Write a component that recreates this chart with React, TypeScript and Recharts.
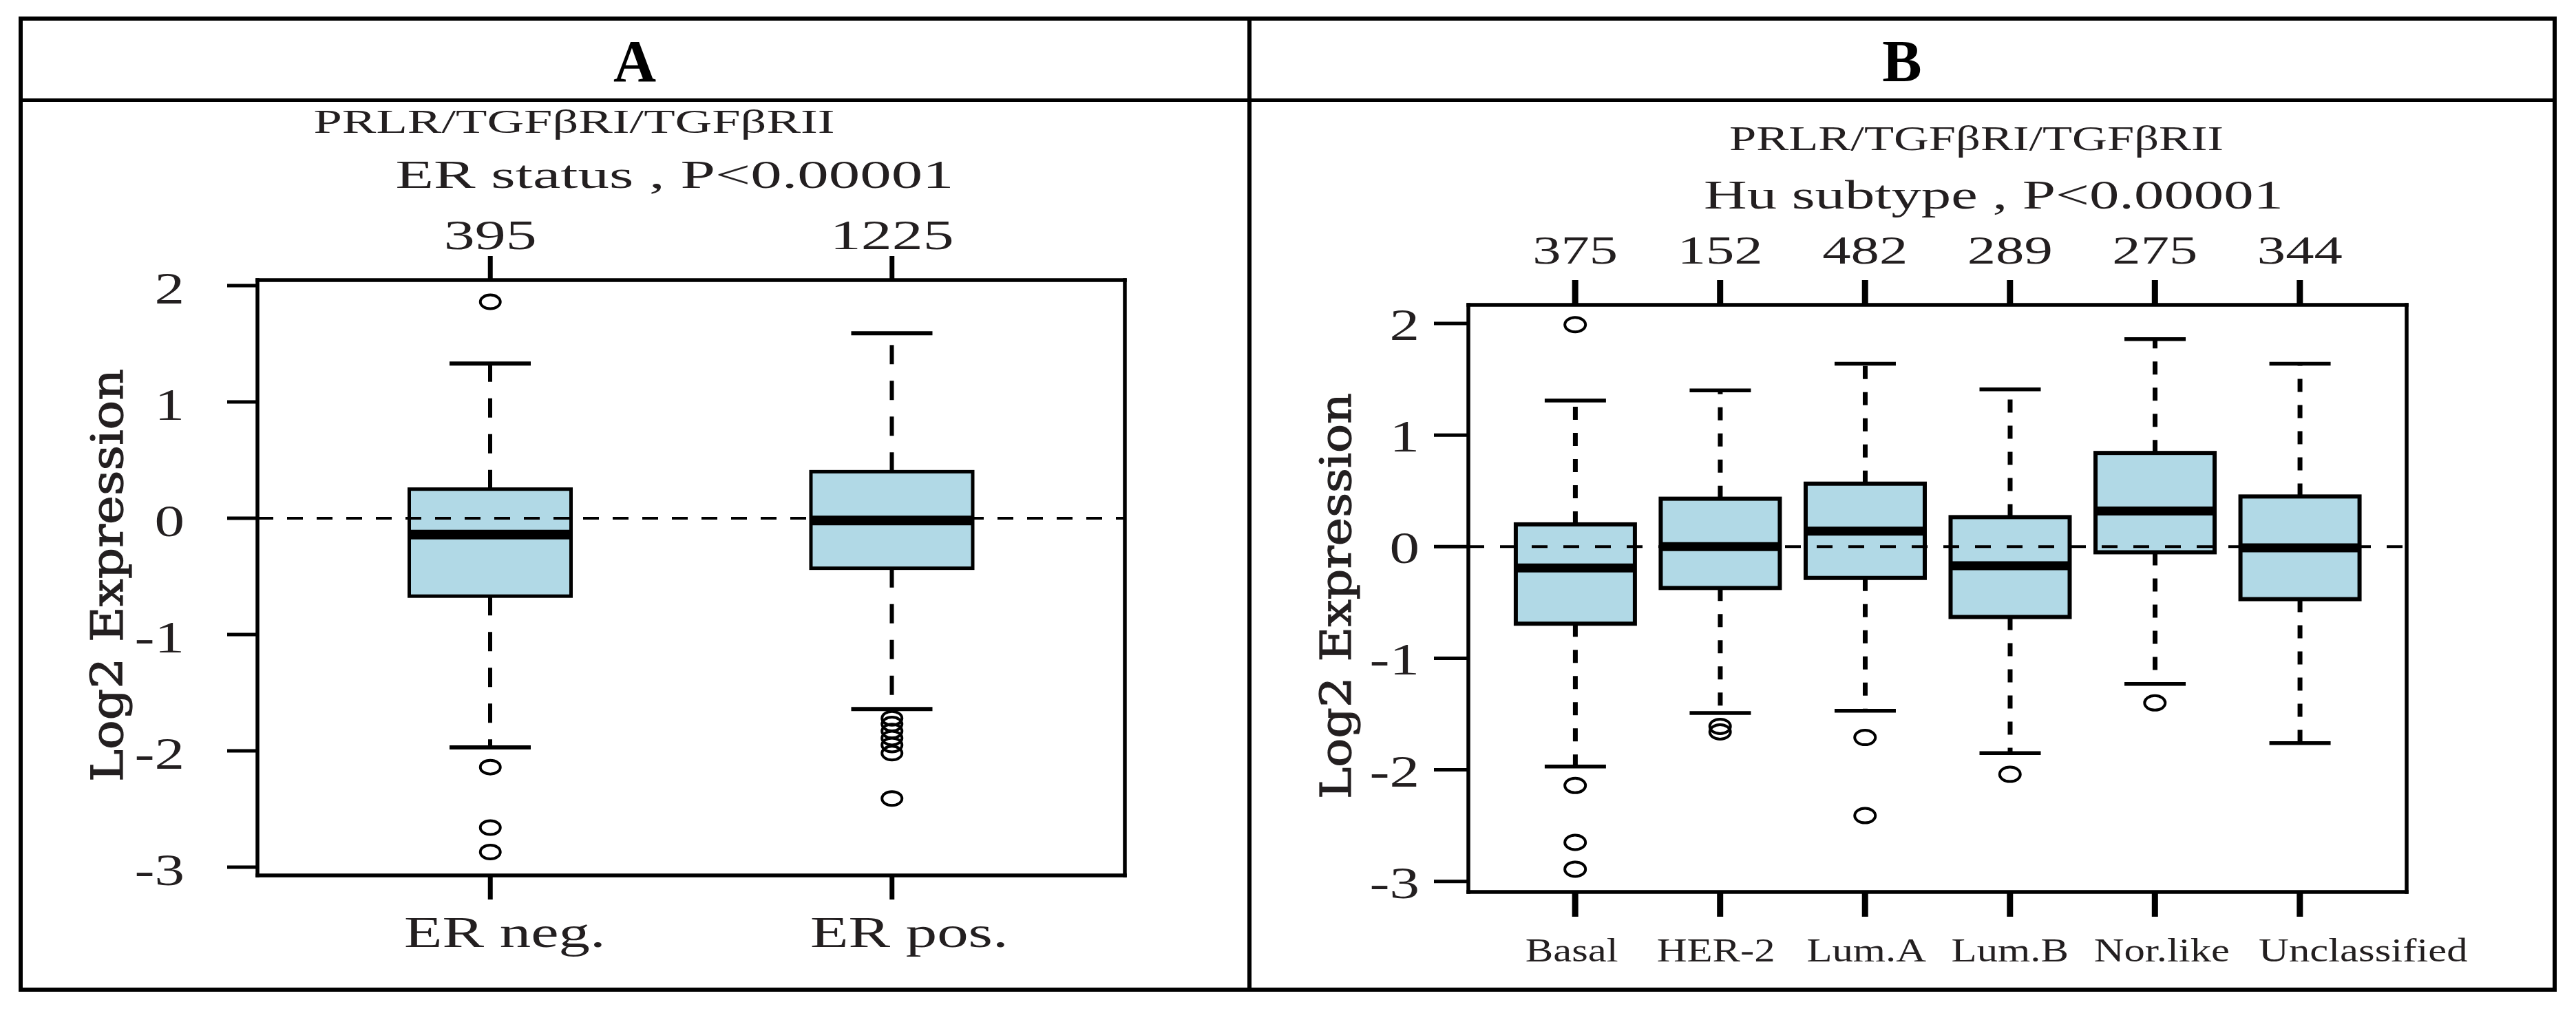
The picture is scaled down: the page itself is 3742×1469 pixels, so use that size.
import React from 'react';
import { ComposedChart, Bar, Scatter, XAxis, YAxis, ReferenceLine } from 'recharts';

const PAGE_W = 3742;
const PAGE_H = 1469;
const SERIF = '"Liberation Serif", "Times New Roman", Times, serif';
const WIDE_SERIF = '"DejaVu Serif", serif';
const INK = '#231f20';
const BOX_FILL = '#b1d9e6';

// ---------- Panel A: ER status ----------
const erCategories = ['ER neg.', 'ER pos.'];
const erCounts = [395, 1225];
const erWhiskerLow = [-1.97, -1.64];
const erQ1 = [-0.67, -0.43];
const erMedian = [-0.14, -0.02];
const erQ3 = [0.25, 0.4];
const erWhiskerHigh = [1.33, 1.59];
const erOutliers = [
  [1.86, -2.14, -2.66, -2.87],
  [-1.72, -1.77, -1.83, -1.89, -1.95, -2.02, -2.41],
];
const erTicks = [-3, -2, -1, 0, 1, 2];

// ---------- Panel B: Hu subtype ----------
const huCategories = ['Basal', 'HER-2', 'Lum.A', 'Lum.B', 'Nor.like', 'Unclassified'];
const huCounts = [375, 152, 482, 289, 275, 344];
const huWhiskerLow = [-1.97, -1.49, -1.47, -1.85, -1.23, -1.76];
const huQ1 = [-0.69, -0.37, -0.28, -0.63, -0.05, -0.47];
const huMedian = [-0.19, 0.0, 0.14, -0.17, 0.32, -0.01];
const huQ3 = [0.2, 0.43, 0.565, 0.265, 0.84, 0.45];
const huWhiskerHigh = [1.31, 1.4, 1.64, 1.41, 1.86, 1.64];
const huOutliers = [[1.99, -2.14, -2.65, -2.89], [-1.61, -1.66], [-1.71, -2.41], [-2.04], [-1.4], []];
const huTicks = [-3, -2, -1, 0, 1, 2];

type Row = { cat: string; count: number; lo: number; q1: number; med: number; q3: number; hi: number };

function buildRows(cats: string[], counts: number[], lo: number[], q1: number[], med: number[], q3: number[], hi: number[]): Row[] {
  return cats.map((c, i) => ({ cat: c, count: counts[i], lo: lo[i], q1: q1[i], med: med[i], q3: q3[i], hi: hi[i] }));
}
function buildOutliers(cats: string[], outs: number[][]) {
  const res: { cat: string; v: number }[] = [];
  cats.forEach((c, i) => outs[i].forEach((v) => res.push({ cat: c, v })));
  return res;
}

const erRows = buildRows(erCategories, erCounts, erWhiskerLow, erQ1, erMedian, erQ3, erWhiskerHigh);
const erOutlierRows = buildOutliers(erCategories, erOutliers);
const huRows = buildRows(huCategories, huCounts, huWhiskerLow, huQ1, huMedian, huQ3, huWhiskerHigh);
const huOutlierRows = buildOutliers(huCategories, huOutliers);

// ---------- layout / style ----------
const panelA = {
  plot: { left: 374, top: 407, right: 1634, bottom: 1272 },
  domain: [-3.071, 2.047],
  pad: 46.5,
  boxWidth: 235,
  capWidth: 118,
  capStroke: 6,
  frameWidth: 5.5,
  boxStroke: 5,
  medianWidth: 14,
  whiskerWidth: 6,
  whiskerDash: '28 24',
  zeroDash: '23 20',
  yTickSize: 44,
  yTickMargin: 62,
  yTickFont: 66,
  yTickSx: 1.32,
  yTickDy: 26,
  yTickWidth: 5,
  xTickSize: 35,
  xTickWidth: 7,
  countBaseline: 362,
  countFont: 62,
  countSx: 1.45,
  labelBaseline: 1376,
  labelFont: 64,
  labelSx: 1.42,
  labelShift: [21, 25],
  outlierRx: 14.5,
  outlierRy: 10,
  outlierStroke: 4,
};

const panelB = {
  plot: { left: 2133, top: 443, right: 3496, bottom: 1296 },
  domain: [-3.094, 2.167],
  pad: 49.9,
  boxWidth: 173,
  capWidth: 89,
  capStroke: 5.5,
  frameWidth: 5.5,
  boxStroke: 6,
  medianWidth: 13,
  whiskerWidth: 7,
  whiskerDash: '19 19',
  zeroDash: '23 23',
  yTickSize: 50,
  yTickMargin: 21,
  yTickFont: 66,
  yTickSx: 1.32,
  yTickDy: 24,
  yTickWidth: 5,
  xTickSize: 36,
  xTickWidth: 9,
  countBaseline: 383,
  countFont: 57,
  countSx: 1.45,
  labelBaseline: 1397,
  labelFont: 48,
  labelSx: 1.265,
  labelShift: [-5, -6, 2, 0, 10, 92],
  outlierRx: 15,
  outlierRy: 10.5,
  outlierStroke: 4,
};

const AXIS_H = 60;
const YAXIS_W = 60;

function StretchText({ x, y, sx, size, anchor = 'middle', family = SERIF, weight = 400, text }: any) {
  return (
    <g transform={`translate(${x},${y}) scale(${sx},1)`}>
      <text x={0} y={0} textAnchor={anchor} fontFamily={family} fontSize={size} fontWeight={weight} fill={INK}>
        {text}
      </text>
    </g>
  );
}

function BoxPanel({ cfg, rows, outliers, ticks, categories, counts }: any) {
  const margin = {
    top: cfg.plot.top - AXIS_H,
    bottom: PAGE_H - cfg.plot.bottom - AXIS_H,
    left: cfg.plot.left - YAXIS_W,
    right: PAGE_W - cfg.plot.right - YAXIS_W,
  };
  const frameLine = { stroke: '#000', strokeWidth: cfg.frameWidth, strokeLinecap: 'square' };

  const renderLabel = (p: any) => {
    const i = categories.indexOf(p.payload.value);
    return (
      <StretchText x={p.x + (cfg.labelShift[i] || 0)} y={cfg.labelBaseline} sx={cfg.labelSx} size={cfg.labelFont} text={p.payload.value} />
    );
  };
  const renderCount = (p: any) => {
    const i = categories.indexOf(p.payload.value);
    return <StretchText x={p.x} y={cfg.countBaseline} sx={cfg.countSx} size={cfg.countFont} text={String(counts[i])} />;
  };
  const renderYTick = (p: any) => (
    <StretchText x={p.x} y={p.y + cfg.yTickDy} sx={cfg.yTickSx} size={cfg.yTickFont} anchor="end" text={String(p.payload.value)} />
  );

  const upperWhisker = (p: any) => {
    const cx = p.x + p.width / 2;
    return (
      <g>
        <line x1={cx} x2={cx} y1={p.y + p.height} y2={p.y} stroke="#000" strokeWidth={cfg.whiskerWidth} strokeDasharray={cfg.whiskerDash} />
        <line x1={cx - cfg.capWidth / 2} x2={cx + cfg.capWidth / 2} y1={p.y} y2={p.y} stroke="#000" strokeWidth={cfg.capStroke} />
      </g>
    );
  };
  const lowerWhisker = (p: any) => {
    const cx = p.x + p.width / 2;
    const yb = p.y + p.height;
    return (
      <g>
        <line x1={cx} x2={cx} y1={p.y} y2={yb} stroke="#000" strokeWidth={cfg.whiskerWidth} strokeDasharray={cfg.whiskerDash} />
        <line x1={cx - cfg.capWidth / 2} x2={cx + cfg.capWidth / 2} y1={yb} y2={yb} stroke="#000" strokeWidth={cfg.capStroke} />
      </g>
    );
  };
  const boxShape = (p: any) => (
    <rect x={p.x} y={p.y} width={p.width} height={p.height} fill={BOX_FILL} stroke="#000" strokeWidth={cfg.boxStroke} />
  );
  const medianShape = (p: any) => (
    <line x1={p.cx - cfg.boxWidth / 2} x2={p.cx + cfg.boxWidth / 2} y1={p.cy} y2={p.cy} stroke="#000" strokeWidth={cfg.medianWidth} />
  );
  const outlierShape = (p: any) => (
    <ellipse cx={p.cx} cy={p.cy} rx={cfg.outlierRx} ry={cfg.outlierRy} fill="none" stroke="#000" strokeWidth={cfg.outlierStroke} />
  );

  return (
    <div style={{ position: 'absolute', left: 0, top: 0 }}>
      <ComposedChart width={PAGE_W} height={PAGE_H} data={rows} margin={margin} barGap={-cfg.boxWidth}>
        <XAxis
          xAxisId="b"
          dataKey="cat"
          type="category"
          orientation="bottom"
          height={AXIS_H}
          padding={{ left: cfg.pad, right: cfg.pad }}
          allowDuplicatedCategory={false}
          interval={0}
          axisLine={frameLine}
          tickSize={cfg.xTickSize}
          tickLine={{ stroke: '#000', strokeWidth: cfg.xTickWidth }}
          tick={renderLabel}
        />
        <XAxis
          xAxisId="t"
          dataKey="cat"
          type="category"
          orientation="top"
          height={AXIS_H}
          padding={{ left: cfg.pad, right: cfg.pad }}
          allowDuplicatedCategory={false}
          interval={0}
          axisLine={frameLine}
          tickSize={cfg.xTickSize}
          tickLine={{ stroke: '#000', strokeWidth: cfg.xTickWidth }}
          tick={renderCount}
        />
        <YAxis
          yAxisId="l"
          type="number"
          domain={cfg.domain}
          ticks={ticks}
          allowDataOverflow
          width={YAXIS_W}
          axisLine={frameLine}
          tickSize={cfg.yTickSize}
          tickMargin={cfg.yTickMargin}
          tickLine={{ stroke: '#000', strokeWidth: cfg.yTickWidth }}
          tick={renderYTick}
          interval={0}
        />
        <YAxis
          yAxisId="r"
          orientation="right"
          type="number"
          domain={cfg.domain}
          ticks={ticks}
          allowDataOverflow
          width={YAXIS_W}
          axisLine={frameLine}
          tickLine={false}
          tick={false}
        />
        <Bar xAxisId="b" yAxisId="l" dataKey={(d: Row) => [d.q3, d.hi]} barSize={cfg.boxWidth} shape={upperWhisker} isAnimationActive={false} />
        <Bar xAxisId="b" yAxisId="l" dataKey={(d: Row) => [d.lo, d.q1]} barSize={cfg.boxWidth} shape={lowerWhisker} isAnimationActive={false} />
        <Bar xAxisId="b" yAxisId="l" dataKey={(d: Row) => [d.q1, d.q3]} barSize={cfg.boxWidth} shape={boxShape} isAnimationActive={false} />
        <ReferenceLine xAxisId="b" yAxisId="l" y={0} stroke="#000" strokeWidth={4} strokeDasharray={cfg.zeroDash} ifOverflow="visible" />
        <Scatter xAxisId="t" yAxisId="l" dataKey="med" shape={medianShape} isAnimationActive={false} />
        <Scatter xAxisId="b" yAxisId="r" data={outliers} dataKey="v" shape={outlierShape} isAnimationActive={false} />
      </ComposedChart>
    </div>
  );
}

function Frame() {
  return (
    <svg width={PAGE_W} height={PAGE_H} style={{ position: 'absolute', left: 0, top: 0 }}>
      <rect x={0} y={0} width={PAGE_W} height={PAGE_H} fill="#fff" />
      <rect x={30} y={27} width={3681} height={1411} fill="none" stroke="#000" strokeWidth={6} />
      <line x1={30} x2={3711} y1={145.5} y2={145.5} stroke="#000" strokeWidth={5} />
      <line x1={1815} x2={1815} y1={27} y2={1438} stroke="#000" strokeWidth={6} />
      <text x={922} y={118} textAnchor="middle" fontFamily={SERIF} fontWeight={700} fontSize={86} fill="#000">A</text>
      <text x={2763} y={118} textAnchor="middle" fontFamily={SERIF} fontWeight={700} fontSize={86} fill="#000">B</text>

      <text x={834} y={193} textAnchor="middle" fontFamily={SERIF} fontSize={48} fill={INK} textLength={757} lengthAdjust="spacingAndGlyphs">
        PRLR/TGFβRI/TGFβRII
      </text>
      <text x={980} y={273} textAnchor="middle" fontFamily={SERIF} fontSize={58} fill={INK} textLength={811} lengthAdjust="spacingAndGlyphs">
        ER status , P&lt;0.00001
      </text>
      <text x={2871} y={218} textAnchor="middle" fontFamily={SERIF} fontSize={50} fill={INK} textLength={718} lengthAdjust="spacingAndGlyphs">
        PRLR/TGFβRI/TGFβRII
      </text>
      <text x={2896} y={303} textAnchor="middle" fontFamily={SERIF} fontSize={60} fill={INK} textLength={842} lengthAdjust="spacingAndGlyphs">
        Hu subtype , P&lt;0.00001
      </text>

      <g transform="translate(178,836)">
        <text transform="rotate(-90)" x={0} y={0} textAnchor="middle" fontFamily={WIDE_SERIF} fontSize={64} fill={INK} stroke={INK} strokeWidth={1.2} textLength={600} lengthAdjust="spacingAndGlyphs">
          Log2 Expression
        </text>
      </g>
      <g transform="translate(1962,866)">
        <text transform="rotate(-90)" x={0} y={0} textAnchor="middle" fontFamily={WIDE_SERIF} fontSize={62} fill={INK} stroke={INK} strokeWidth={1.2} textLength={590} lengthAdjust="spacingAndGlyphs">
          Log2 Expression
        </text>
      </g>
    </svg>
  );
}

export default function App() {
  return (
    <div style={{ position: 'absolute', left: 0, top: 0, width: PAGE_W, height: PAGE_H, background: '#fff', overflow: 'hidden' }}>
      <Frame />
      <BoxPanel cfg={panelA} rows={erRows} outliers={erOutlierRows} ticks={erTicks} categories={erCategories} counts={erCounts} />
      <BoxPanel cfg={panelB} rows={huRows} outliers={huOutlierRows} ticks={huTicks} categories={huCategories} counts={huCounts} />
    </div>
  );
}
